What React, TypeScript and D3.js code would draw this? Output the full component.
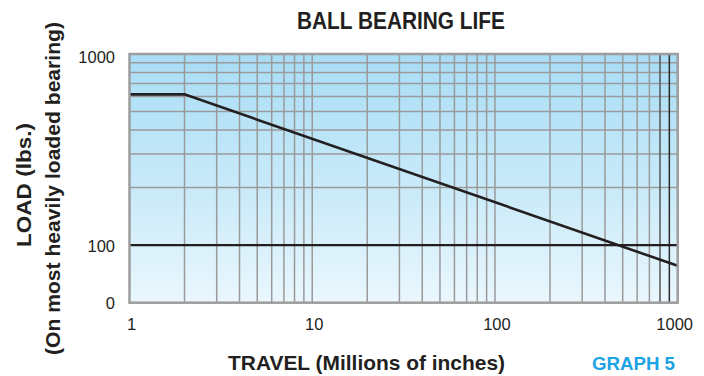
import React from "react";
import * as d3 from "d3";

// ---- data ----
const travel = [1, 2, 1000];
const load = [615, 615, 78];
const limitTravel = [1, 1000];
const limitLoad = [100, 100];
const xTickValues = [1, 10, 100, 1000];
const xTickLabels = ["1", "10", "100", "1000"];
const yTickValues = [50, 100, 1000];
const yTickLabels = ["0", "100", "1000"];
const xGridValues = [2, 3, 4, 5, 6, 7, 8, 9, 10, 20, 30, 40, 50, 60, 70, 80, 90, 100, 200, 300, 400, 500, 600, 700, 800, 900];
const yGridValues = [200, 300, 400, 500, 600, 700, 800, 900];
const darkGridValues = [800, 900];

const W = 704;
const H = 376;
const left = 129.5;
const right = 677.7;
const top = 54;
const bottom = 302.7;

const FONT = "'Liberation Sans', Arial, Helvetica, sans-serif";
const INK = "#231f20";

export default function App() {
  const x = d3.scaleLog().domain([1, 1000]).range([left, right]);
  const y = d3.scaleLog().domain([50, 1000]).range([bottom, top]);
  const line = d3
    .line<number>()
    .x((_, i) => x(travel[i]))
    .y((d) => y(d));
  const limitLine = d3
    .line<number>()
    .x((_, i) => x(limitTravel[i]))
    .y((d) => y(d));

  return (
    <svg
      width={W}
      height={H}
      viewBox={`0 0 ${W} ${H}`}
      style={{ position: "absolute", left: 0, top: 0, background: "#fff" }}
    >
      <defs>
        <linearGradient id="bg" x1="0" y1="0" x2="0" y2="1">
          <stop offset="0%" stopColor="#a8ddf6" />
          <stop offset="55%" stopColor="#c9eaf9" />
          <stop offset="100%" stopColor="#eaf7fd" />
        </linearGradient>
      </defs>

      {/* title */}
      <text
        x={401}
        y={29.3}
        textAnchor="middle"
        fontFamily={FONT}
        fontWeight="bold"
        fontSize={23}
        fill={INK}
        textLength={208}
        lengthAdjust="spacingAndGlyphs"
      >
        BALL BEARING LIFE
      </text>

      {/* plot background */}
      <rect x={left} y={top} width={right - left} height={bottom - top} fill="url(#bg)" />

      {/* grid */}
      {yGridValues.map((v) => (
        <line key={"gy" + v} x1={left} x2={right} y1={y(v)} y2={y(v)} stroke="#9a9a9a" strokeWidth={1.5} />
      ))}
      {xGridValues.map((v) => (
        <line
          key={"gx" + v}
          x1={x(v)}
          x2={x(v)}
          y1={top}
          y2={bottom}
          stroke={darkGridValues.includes(v) ? (v === 900 ? "#2a2a2a" : "#555") : "#9a9a9a"}
          strokeWidth={1.5}
        />
      ))}

      {/* 100 lb line */}
      <path d={limitLine(limitLoad) || ""} fill="none" stroke={INK} strokeWidth={2.2} />

      {/* life line */}
      <path d={line(load) || ""} fill="none" stroke={INK} strokeWidth={2.6} strokeLinejoin="miter" />

      {/* frame */}
      <rect
        x={left}
        y={top}
        width={right - left}
        height={bottom - top}
        fill="none"
        stroke="#9d9d9d"
        strokeWidth={2.5}
      />

      {/* y tick labels */}
      {yTickValues.map((v, i) => (
        <text
          key={"yt" + v}
          x={115}
          y={y(v) + (v === 1000 ? 9 : 6.5)}
          textAnchor="end"
          fontFamily={FONT}
          fontSize={16.5}
          fill={INK}
        >
          {yTickLabels[i]}
        </text>
      ))}

      {/* x tick labels */}
      {xTickValues.map((v, i) => (
        <text
          key={"xt" + v}
          x={v === 1000 ? x(v) - 3 : x(v) + 2}
          y={330}
          textAnchor="middle"
          fontFamily={FONT}
          fontSize={16.5}
          fill={INK}
        >
          {xTickLabels[i]}
        </text>
      ))}

      {/* x axis title */}
      <text
        x={366.5}
        y={370}
        textAnchor="middle"
        fontFamily={FONT}
        fontWeight="bold"
        fontSize={21}
        fill={INK}
        textLength={277}
        lengthAdjust="spacingAndGlyphs"
      >
        TRAVEL (Millions of inches)
      </text>

      {/* y axis titles */}
      <text
        transform="translate(31,185) rotate(-90)"
        textAnchor="middle"
        fontFamily={FONT}
        fontWeight="bold"
        fontSize={21}
        fill={INK}
        textLength={124}
        lengthAdjust="spacingAndGlyphs"
      >
        LOAD (lbs.)
      </text>
      <text
        transform="translate(59.5,188.5) rotate(-90)"
        textAnchor="middle"
        fontFamily={FONT}
        fontWeight="bold"
        fontSize={21}
        fill={INK}
        textLength={333}
        lengthAdjust="spacingAndGlyphs"
      >
        (On most heavily loaded bearing)
      </text>

      {/* graph label */}
      <text
        x={633.5}
        y={370}
        textAnchor="middle"
        fontFamily={FONT}
        fontWeight="bold"
        fontSize={18}
        fill="#1ba3e6"
        textLength={83}
        lengthAdjust="spacingAndGlyphs"
      >
        GRAPH 5
      </text>
    </svg>
  );
}
